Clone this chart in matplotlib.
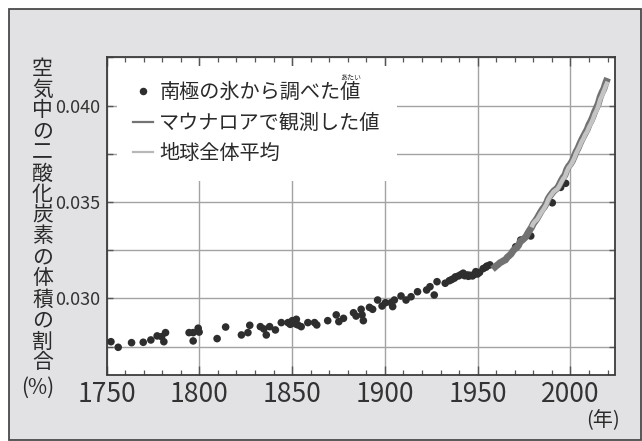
import matplotlib
matplotlib.use("Agg")
import matplotlib.pyplot as plt
from matplotlib.lines import Line2D
from matplotlib.patches import Rectangle
from matplotlib.ticker import MultipleLocator, FixedLocator

plt.rcParams['font.family'] = ['Noto Sans CJK JP', 'DejaVu Sans']

# ---------------- data ----------------
ice_year = [1752.4, 1756.3, 1763.5, 1769.8, 1773.9, 1777.3, 1779.7, 1781.8, 1780.9,
            1794.5, 1796.7, 1796.7, 1799.4, 1799.9, 1809.6, 1814.2, 1822.7, 1826.2,
            1827.2, 1832.9, 1834.8, 1836.1, 1837.9, 1841.0, 1844.2, 1847.8, 1849.0,
            1850.1, 1851.0, 1852.0, 1852.3, 1853.1, 1854.9, 1858.5, 1862.1, 1863.3,
            1869.2, 1873.8, 1875.2, 1877.7, 1883.1, 1884.5, 1887.2, 1888.4, 1887.7,
            1891.7, 1893.4, 1896.1, 1898.5, 1900.3, 1903.3, 1904.2, 1905.1, 1908.7,
            1911.4, 1914.1, 1917.6, 1922.5, 1924.3, 1926.6, 1928.1, 1932.5, 1934.7,
            1936.0, 1937.4, 1938.0, 1939.7, 1941.0, 1942.2, 1943.0, 1944.5, 1945.0,
            1946.0, 1947.2, 1948.0, 1949.0, 1949.9, 1951.0, 1953.0, 1954.4, 1955.0,
            1956.6, 1970.5, 1973.2, 1978.6, 1990.2, 1994.7, 1997.4]
ice_ppm = [277.6, 274.7, 277.1, 277.3, 278.5, 280.6, 280.2, 282.3, 277.6,
           282.3, 282.3, 278.0, 284.6, 282.6, 279.2, 285.2, 281.1, 282.3,
           286.1, 285.4, 284.2, 281.1, 285.4, 283.7, 287.5, 287.5, 286.6,
           288.5, 287.8, 286.8, 289.2, 286.3, 285.4, 287.5, 287.5, 286.3,
           288.5, 291.5, 288.0, 289.7, 292.6, 290.9, 294.4, 288.5, 291.5,
           295.4, 294.4, 299.2, 296.1, 297.8, 297.8, 295.8, 299.2, 301.3,
           299.2, 300.9, 303.5, 304.4, 306.1, 301.8, 308.7, 307.9, 309.2,
           309.8, 310.5, 311.2, 311.7, 312.4, 313.1, 311.8, 312.2, 311.5,
           312.0, 311.7, 312.4, 313.9, 312.7, 313.5, 315.5, 316.2, 316.8,
           317.4, 326.8, 330.3, 332.4, 349.6, 357.6, 359.7]

mlo_year = list(range(1958, 2021))
mlo_ppm = [315.2, 316.0, 316.9, 317.6, 318.5, 319.0, 319.6, 320.0, 321.4, 322.2,
           323.1, 324.6, 325.7, 326.3, 327.5, 329.7, 330.2, 331.1, 332.0, 333.8,
           335.4, 336.8, 338.8, 340.1, 341.5, 343.2, 344.9, 346.4, 347.6, 349.3,
           351.7, 353.2, 354.5, 355.7, 356.5, 357.2, 359.0, 361.0, 362.7, 363.9,
           366.8, 368.5, 369.7, 371.3, 373.5, 376.0, 377.7, 380.0, 382.1, 384.0,
           385.8, 387.6, 390.1, 391.9, 394.1, 396.7, 398.8, 401.0, 404.4, 406.8,
           408.7, 411.7, 414.2]

glb_year = list(range(1979, 2021))
glb_ppm = [336.9, 338.9, 340.1, 340.9, 342.5, 344.1, 345.5, 347.0, 348.7, 351.2,
           352.8, 354.1, 355.4, 356.1, 356.8, 358.3, 360.2, 361.9, 363.1, 365.7,
           367.8, 369.0, 370.6, 372.6, 375.1, 377.0, 379.0, 381.2, 382.9, 385.0,
           386.5, 388.8, 390.6, 392.7, 395.4, 397.3, 399.7, 403.1, 405.2, 407.6,
           410.1, 412.4]

legend_labels = ['南極の氷から調べた値', 'マウナロアで観測した値', '地球全体平均']
ruby_text = 'あたい'
ylabel_text = '空気中の二酸化炭素の体積の割合'
yunit_text = '(%)'
xunit_text = '(年)'
x_major = [1750, 1800, 1850, 1900, 1950, 2000]
y_major = [0.030, 0.035, 0.040]
y_major_labels = ['0.030', '0.035', '0.040']

PPM_TO_PCT = 1e-4

# ---------------- figure ----------------
W, H = 642, 441
fig = plt.figure(figsize=(W / 100, H / 100), dpi=100, facecolor='white')

def fx(px):
    return px / W

def fy(py):
    return 1 - py / H

fig.patches.append(Rectangle((fx(9), fy(440)), fx(641) - fx(9), fy(9) - fy(440),
                             transform=fig.transFigure, facecolor='#e2e2e4',
                             edgecolor='#4a4a4a', lw=1.3, zorder=-5))

L, R, T, B = 106.5, 615, 57.3, 374.5
ax = fig.add_axes([fx(L), fy(B), fx(R) - fx(L), fy(T) - fy(B)])
ax.set_zorder(2)
ax.set_facecolor('white')
ax.set_axisbelow(True)

ax.set_xlim(1750, 2024)
ax.set_ylim(0.02606, 0.0425)

# marks
ax.scatter(ice_year, [v * PPM_TO_PCT for v in ice_ppm], s=30, color='#2e2e2e',
           edgecolors='none', zorder=3)
ax.plot(mlo_year, [v * PPM_TO_PCT for v in mlo_ppm], color='#727272', lw=5.0,
        solid_capstyle='butt', zorder=4)
ax.plot(glb_year, [v * PPM_TO_PCT for v in glb_ppm], color='#c4c4c4', lw=3.2,
        solid_capstyle='butt', zorder=5)

# ticks & grid
ax.xaxis.set_major_locator(FixedLocator(x_major))
ax.xaxis.set_minor_locator(MultipleLocator(10))
ax.yaxis.set_major_locator(FixedLocator(y_major))
ax.yaxis.set_minor_locator(MultipleLocator(0.0025))
ax.set_yticklabels(y_major_labels)

ax.grid(which='major', axis='x', color='#a3a3a3', lw=1.0)
ax.grid(which='both', axis='y', color='#a3a3a3', lw=1.0)

ax.tick_params(axis='x', which='major', direction='in', top=True, bottom=True,
               length=6.5, width=1.0, color='#555555', pad=4.5,
               labelsize=19, labelcolor='#333333')
ax.tick_params(axis='x', which='minor', direction='in', top=True, bottom=True,
               length=3.6, width=0.9, color='#555555')
ax.tick_params(axis='y', which='both', direction='in', left=True, right=True,
               length=4.5, width=1.0, color='#555555', pad=4.2,
               labelsize=13, labelcolor='#333333')

for sp in ax.spines.values():
    sp.set_color('#3c3c3c')
    sp.set_linewidth(1.3)

# legend
handles = [
    Line2D([], [], ls='none', marker='o', ms=4.4, color='#2e2e2e'),
    Line2D([], [], color='#747474', lw=1.6),
    Line2D([], [], color='#b8b8b8', lw=1.6),
]
leg = ax.legend(handles, legend_labels, loc='upper left',
                bbox_to_anchor=((117 - L) / (R - L), 1 - (66 - T) / (B - T)),
                prop={'family': ['Noto Sans CJK JP'], 'size': 14.5},
                frameon=True, fancybox=False, facecolor='white', edgecolor='none',
                framealpha=1, borderpad=0.8, handlelength=1.0, handletextpad=0.3,
                labelspacing=0.48, borderaxespad=0)
for t in leg.get_texts():
    t.set_color('#2a2a2a')
leg.set_zorder(6)

# y label: upright stacked characters
top_px, step = 58, 21.0
for i, ch in enumerate(ylabel_text):
    fig.text(fx(42.5), fy(top_px + step * (i + 0.5)), ch, ha='center', va='center',
             fontsize=15.0, color='#2a2a2a')
fig.text(fx(37.5), fy(388), yunit_text, ha='center', va='center', fontsize=15,
         color='#2a2a2a')
fig.text(fx(603), fy(421), xunit_text, ha='center', va='center', fontsize=14.5,
         color='#2a2a2a')

# ruby above the last character of the first legend label
fig.canvas.draw()
r = fig.canvas.get_renderer()
bb = leg.get_texts()[0].get_window_extent(r)
em = 14.5 * 100 / 72
fig.text((bb.x1 - em / 2) / W, (bb.y1 + 0.5) / H, ruby_text, ha='center', va='bottom',
         fontsize=5, color='#2a2a2a', zorder=10)

fig.savefig('out.png', dpi=100, facecolor=fig.get_facecolor())
